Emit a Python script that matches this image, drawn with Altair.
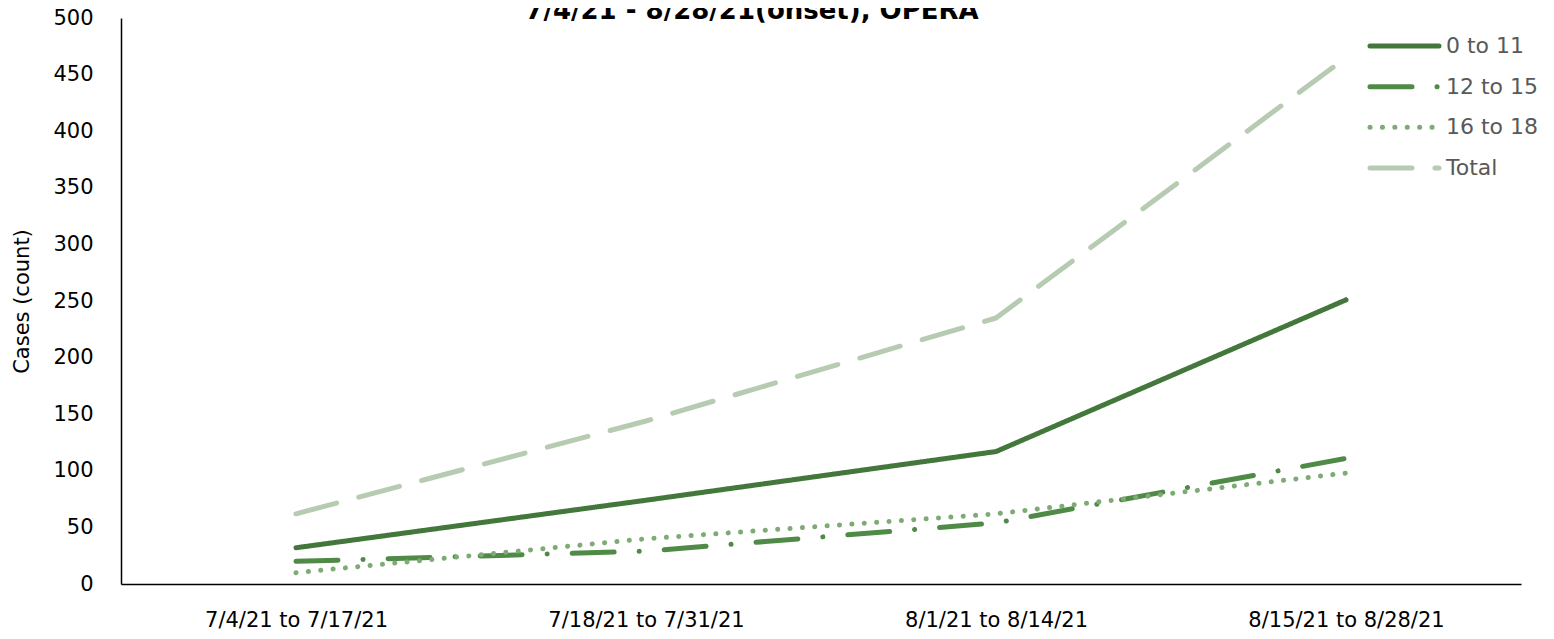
import altair as alt
import pandas as pd

periods = ["7/4/21 to 7/17/21", "7/18/21 to 7/31/21", "8/1/21 to 8/14/21", "8/15/21 to 8/28/21"]
age_0_11 = [32, 74, 117, 251]
age_12_15 = [20, 29, 54, 111]
age_16_18 = [10, 40, 62, 98]
total = [62, 144, 235, 465]
series_names = ["0 to 11", "12 to 15", "16 to 18", "Total"]
series_colors = ["#43773B", "#4F8A46", "#7EAB75", "#B6CBB1"]
series_dashes = [[1, 0], [42, 25, 0.1, 25], [0.1, 12.3], [42, 23]]
title_text = "7/4/21 - 8/28/21(onset), OPERA"
y_title = "Cases (count)"

rows = []
for name, vals in zip(series_names, [age_0_11, age_12_15, age_16_18, total]):
    for i, (p, v) in enumerate(zip(periods, vals)):
        rows.append({"period": p, "cases": v, "group": name, "order": i})
df = pd.DataFrame(rows)
leg_df = pd.DataFrame({"group": series_names})

FONT = "DejaVu Sans"

color_enc = alt.Color("group:N", scale=alt.Scale(domain=series_names, range=series_colors), legend=None)
dash_enc = alt.StrokeDash("group:N", scale=alt.Scale(domain=series_names, range=series_dashes), legend=None)

lines = alt.Chart(df).mark_line(strokeWidth=5, strokeCap="round", strokeJoin="round").encode(
    x=alt.X("period:N", sort=periods, title=None,
            scale=alt.Scale(type="point", padding=0.5),
            axis=alt.Axis(labelAngle=0, ticks=False, domainColor="#000000", domainWidth=1.5,
                          labelFont=FONT, labelFontSize=21, labelColor="#000000",
                          labelPadding=25, grid=False, labelLimit=0)),
    y=alt.Y("cases:Q", title=y_title,
            scale=alt.Scale(domain=[0, 500], nice=False),
            axis=alt.Axis(values=list(range(0, 501, 50)), ticks=False, grid=False,
                          domainColor="#000000", domainWidth=1.5,
                          labelFont=FONT, labelFontSize=21, labelColor="#000000", labelPadding=28,
                          titleFont=FONT, titleFontSize=21, titleFontWeight="normal",
                          titleColor="#000000", titlePadding=20)),
    color=color_enc,
    strokeDash=dash_enc,
    order=alt.Order("order:Q"),
)

leg_y = alt.Y("group:N", scale=alt.Scale(type="point", domain=series_names, range=[28, 150], padding=0),
              axis=None)

leg_lines = alt.Chart(leg_df).mark_rule(strokeWidth=5, strokeCap="round").encode(
    x=alt.value(1249), x2=alt.value(1318), y=leg_y, color=color_enc, strokeDash=dash_enc
)
leg_text = alt.Chart(leg_df).mark_text(
    font=FONT, fontSize=22, color="#595959", align="left", baseline="middle"
).encode(x=alt.value(1325), y=leg_y, text="group:N")

title_df = pd.DataFrame({"t": [title_text]})
title_mark = alt.Chart(title_df).mark_text(
    font=FONT, fontSize=26, fontWeight="bold", color="#000000",
    align="center", baseline="alphabetic"
).encode(text="t:N", x=alt.value(631), y=alt.value(1))

chart = alt.layer(lines, leg_lines, leg_text, title_mark).resolve_scale(
    y="independent"
).properties(
    width=1400, height=566,
    autosize=alt.AutoSizeParams(type="none"),
    padding={"left": 113, "top": 10, "right": 25, "bottom": 47},
).configure_view(stroke=None)

chart.save("out.html", embed_options={"renderer": "svg", "actions": False})
